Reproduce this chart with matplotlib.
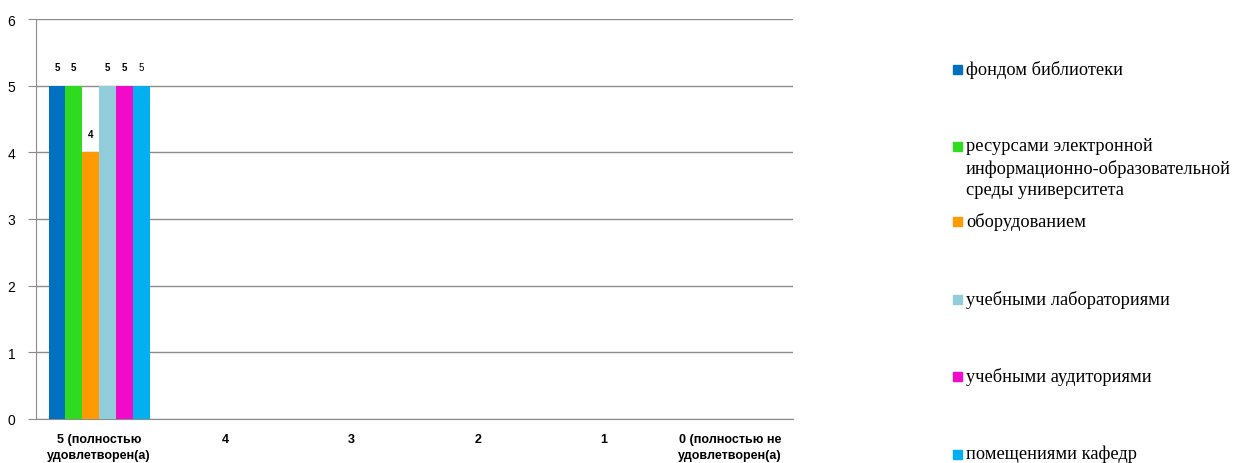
import matplotlib
matplotlib.use("Agg")
import matplotlib.pyplot as plt
import numpy as np
from matplotlib.patches import Rectangle

categories = ["5 (полностью\nудовлетворен(а)", "4", "3", "2", "1", "0 (полностью не\nудовлетворен(а)"]
series_names = [
    "фондом библиотеки",
    "ресурсами электронной\nинформационно-образовательной\nсреды университета",
    "оборудованием",
    "учебными лабораториями",
    "учебными аудиториями",
    "помещениями кафедр",
]
values = [
    [5, 0, 0, 0, 0, 0],
    [5, 0, 0, 0, 0, 0],
    [4, 0, 0, 0, 0, 0],
    [5, 0, 0, 0, 0, 0],
    [5, 0, 0, 0, 0, 0],
    [5, 0, 0, 0, 0, 0],
]
colors = ["#0070C0", "#2EDB1F", "#FF9A00", "#92CDDC", "#F20ACB", "#00B0F0"]
label_bold = [True, True, True, True, True, False]

W, H = 1237, 464
fig = plt.figure(figsize=(W / 100, H / 100), dpi=100)
ax = fig.add_axes([36 / W, 1 - 420 / H, (793 - 36) / W, 400 / H])

n = len(series_names)
x = np.arange(len(categories))
group = 0.8
bw = group / n
for i in range(n):
    pos = x - group / 2 + bw * (i + 0.5)
    vals = np.array(values[i], dtype=float)
    ax.bar(pos, vals, width=bw, color=colors[i], zorder=3)
    for p, v in zip(pos, vals):
        if v > 0:
            ax.annotate(f"{int(v)}", (p, v), xytext=(0, 9.5), textcoords="offset points",
                        ha="center", va="bottom", fontsize=7,
                        fontweight="bold" if label_bold[i] else "normal",
                        family="Liberation Sans", color="#000000")

ax.set_xlim(-0.5, len(categories) - 0.5)
ax.set_ylim(0, 6)
ax.set_yticks(range(0, 7))
ax.yaxis.grid(True, color="#8C8C8C", linewidth=1, zorder=0)
ax.set_axisbelow(True)
for s in ["top", "right"]:
    ax.spines[s].set_visible(False)
ax.spines["left"].set_color("#8C8C8C")
ax.spines["bottom"].set_color("#8C8C8C")
ax.tick_params(axis="y", length=6, color="#8C8C8C", labelsize=10, pad=9)
ax.tick_params(axis="x", length=0, pad=10)
ax.set_xticks(x)
ax.set_xticklabels(categories, fontsize=9, fontweight="bold", family="Liberation Sans", linespacing=1.5)
for lab in ax.get_yticklabels():
    lab.set_family("Liberation Sans")
for lab in ax.get_xticklabels():
    lab.set_verticalalignment("top")

# legend (manual)
legend_y = [70, 147, 222, 300, 377, 455]
for name, c, yy in zip(series_names, colors, legend_y):
    fig.patches.append(Rectangle((953 / W, 1 - (yy + 5) / H), 9 / W, 9 / H,
                                 transform=fig.transFigure, color=c))
    fig.text(966 / W, 1 - (yy - 9) / H, name, ha="left", va="top",
             fontsize=13.2, family="Liberation Serif", linespacing=1.35, color="#000000")

fig.savefig("out.png", dpi=100)
